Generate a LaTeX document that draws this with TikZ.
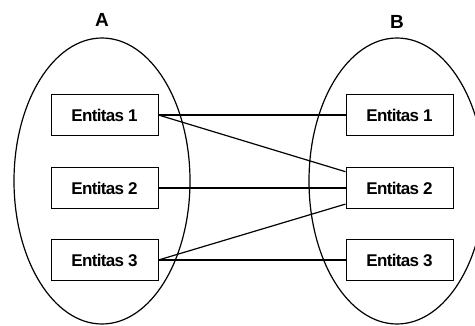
\documentclass[tikz,border=0pt]{standalone}
\usepackage{fontspec}
\setmainfont{Liberation Sans}
\newfontfamily\entfont[LetterSpace=-4]{Liberation Sans}
\usetikzlibrary{shapes.geometric,positioning}

\begin{document}
\begin{tikzpicture}[x=1pt,y=1pt,line width=1.2pt,
    every node/.style={inner sep=0pt},
    entbox/.style={draw,line width=1pt,minimum width=107pt,minimum height=41pt,font=\entfont\fontsize{17}{19}\selectfont\bfseries},
    setoval/.style={ellipse,draw,line width=1.2pt,minimum width=176pt,minimum height=286pt},
    setname/.style={font=\fontsize{19}{21}\selectfont\bfseries}]
                \useasboundingbox (0,0) rectangle (475,325);
                \clip (0,0) rectangle (475,325);

                \node[setoval] (setA) at (102,144) {};
                \node[setoval] (setB) at (397,144) {};
                \node[setname,above=10pt of setA.north] (labA) {A};
                \node[setname,above=8pt of setB.north] (labB) {B};

                \node[entbox] (a1) at (104.5,210) {Entitas 1};
                \node[entbox,below=31pt of a1] (a2) {Entitas 2};
                \node[entbox,below=30pt of a2] (a3) {Entitas 3};

                \node[entbox] (b1) at (399.5,210) {Entitas 1} edge (a1.east);
                \node[entbox,below=31pt of b1] (b2) {Entitas 2} edge (a1.east) edge (a2.east) edge (a3.east);
                \node[entbox,below=30pt of b2] (b3) {Entitas 3} edge (a3.east);

            \end{tikzpicture}
\end{document}
